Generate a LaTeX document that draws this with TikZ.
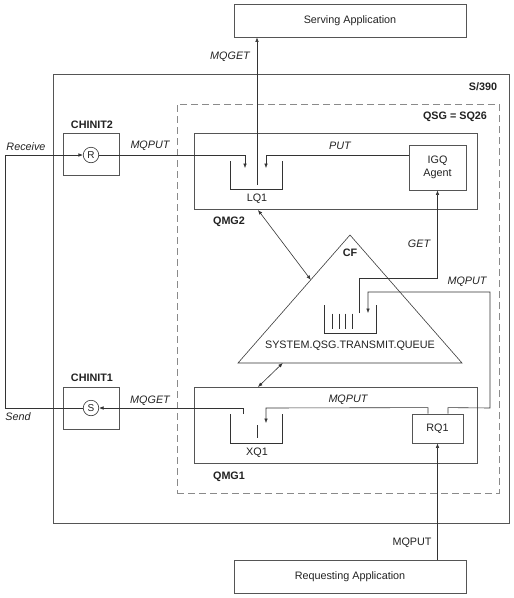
\documentclass[tikz,border=0pt]{standalone}
\usepackage{fontspec}
\setmainfont{Liberation Sans}
\usetikzlibrary{arrows.meta,calc}
\definecolor{boxgray}{HTML}{555555}
\definecolor{linegray}{HTML}{333333}
\definecolor{dashgray}{HTML}{8A8A8A}
\definecolor{txt}{HTML}{222222}
\begin{document}
\begin{tikzpicture}[x=1pt,y=-1pt,
  font=\fontsize{10.8}{12.5}\selectfont, text=txt,
  box/.style={draw=boxgray, line width=0.8pt, inner sep=0pt},
  circ/.style={draw=linegray, circle, line width=0.6pt, inner sep=0pt, minimum size=15.5pt, font=\fontsize{10}{11}\selectfont},
  conn/.style={draw=linegray, line width=0.6pt},
  arr/.style={conn, -{Latex[length=4.5pt,width=3.6pt]}},
  darr/.style={conn, {Latex[length=4.5pt,width=3.6pt]}-{Latex[length=4.5pt,width=3.6pt]}},
  lbl/.style={inner sep=0pt},
  ilbl/.style={inner sep=0pt, font=\fontsize{10.8}{12.5}\selectfont\itshape},
  blbl/.style={inner sep=0pt, font=\fontsize{10.8}{12.5}\selectfont\bfseries},
  queue/.style={draw=linegray, line width=0.6pt}
]
\useasboundingbox (0,0) rectangle (514,598);

% outer containers
\node[box, minimum width=456pt, minimum height=449pt] (s390) at (281,298.5) {};
\node[draw=dashgray, line width=1pt, dash pattern=on 7pt off 4pt, minimum width=322pt, minimum height=389pt, inner sep=0pt] (qsg) at (338,298.5) {};
\node[blbl] (s390lbl) at (483,87) {S/390};
\node[blbl] (qsglbl) at (455,117) {QSG = SQ26};

% applications
\node[box, minimum width=232pt, minimum height=33pt] (serv) at (350,20.5) {Serving Application};
\node[box, minimum width=232pt, minimum height=33pt] (req) at (350,576.5) {Requesting Application};

% channel initiators
\node[box, minimum width=56pt, minimum height=42pt] (chinit2) at (91,154) {};
\node[blbl] (chinit2lbl) at (92,125) {CHINIT2};
\node[circ] (R) at (91,155) {R};
\node[box, minimum width=56pt, minimum height=42pt] (chinit1) at (91,408) {};
\node[blbl] (chinit1lbl) at (92,378) {CHINIT1};
\node[circ] (S) at (91,408) {S};

% queue managers
\node[box, minimum width=283pt, minimum height=76pt] (qmg2) at (335.5,171) {};
\node[blbl] (qmg2lbl) at (229,222) {QMG2};
\node[box, minimum width=57pt, minimum height=45pt, align=center] (igq) at (437.5,167.5) {IGQ\\Agent};
\node[box, minimum width=283pt, minimum height=76pt] (qmg1) at (335.5,425) {};
\node[blbl] (qmg1lbl) at (229,477) {QMG1};
\node[box, minimum width=51pt, minimum height=29pt] (rq1) at (437.5,428.5) {RQ1};

% LQ1 queue
\draw[queue] (230,161) -- (230,189) -- (282,189) -- (282,161);
\node[lbl] (lq1lbl) at (257,199) {LQ1};
\coordinate (lq1out) at (257,185);
\coordinate (lq1inA) at (245,168);
\coordinate (lq1inB) at (266,168);

% XQ1 queue
\draw[queue] (230,414) -- (230,443) -- (282,443) -- (282,414);
\draw[queue] (257,425) -- (257,438);
\node[lbl] (xq1lbl) at (257,453) {XQ1};
\coordinate (xq1out) at (243,414);
\coordinate (xq1in) at (266,423);

% CF triangle
\coordinate (apex) at (350,235);
\coordinate (bl) at (238,363);
\coordinate (br) at (462,363);
\draw[conn] (apex) -- (bl) -- (br) -- cycle;
\node[blbl] (cflbl) at (350,253) {CF};
\draw[queue] (324,305) -- (324,333) -- (376,333) -- (376,305);
\foreach \x in {332.3,339,345.7,352.7} \draw[queue] (\x,313.5) -- (\x,328.5);
\node[lbl] (sysq) at (350,346) {SYSTEM.QSG.TRANSMIT.QUEUE};
\coordinate (cfqout) at (359,313);
\coordinate (cfqin) at (368,313);

% connectors
\draw[arr] (lq1out) -- (lq1out |- serv.south);
\node[ilbl] (mqget1) at (230,57) {MQGET};

\coordinate (loopx) at (5,0);
\draw[arr] (S.west) -- (S.west -| loopx) -- (R.west -| loopx) -- (R.west);
\node[ilbl] (recv) at (26,147) {Receive};
\node[ilbl] (send) at (18,417) {Send};

\draw[arr] (R.east) -| (lq1inA);
\node[ilbl] (mqput1) at (150,146) {MQPUT};

\draw[arr] (igq.west |- R) -| (lq1inB);
\node[ilbl] (put) at (340,146) {PUT};

\draw[arr] (cfqout) -- (cfqout |- 0,278) -| (igq.south);
\node[ilbl] (get) at (419,244) {GET};

\coordinate (rq1r) at ($(rq1.north)+(10.5,0)$);
\coordinate (rq1l) at ($(rq1.north)+(-9.5,0)$);
\draw[arr] (rq1r) -- ++(0,-6) -- (490,408) -- (490,292) -- (cfqin |- 0,292) -- (cfqin);
\node[ilbl] (mqput2) at (467,282) {MQPUT};

\draw[arr] (rq1l) -- ++(0,-6) -- (xq1in |- 0,408) -- (xq1in);
\node[ilbl] (mqput3) at (348,400) {MQPUT};

\draw[arr] (xq1out) -- (xq1out |- S) -- (S.east);
\node[ilbl] (mqget2) at (150,401) {MQGET};

\draw[arr] (rq1.south |- req.north) -- (rq1.south);
\node[lbl] (mqput4) at (412,543) {MQPUT};

\coordinate (qmg2b) at (258,210);
\draw[darr] (qmg2b) -- ($(apex)!0.35!(bl)$);
\coordinate (qmg1t) at (258,387);
\draw[darr] ($(bl)!0.2!(br)$) -- (qmg1t);
\end{tikzpicture}
\end{document}
